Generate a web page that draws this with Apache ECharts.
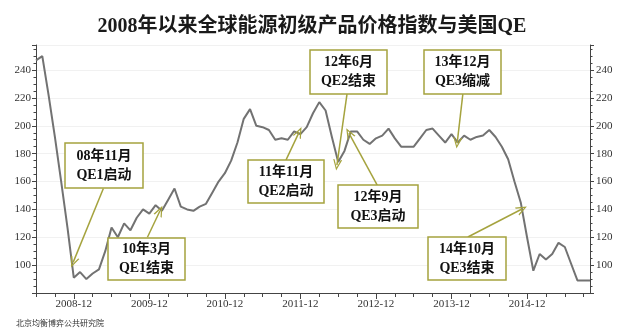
<!DOCTYPE html>
<html><head><meta charset="utf-8">
<script src="https://cdn.jsdelivr.net/npm/echarts@6/dist/echarts.min.js"></script>
<style>html,body{margin:0;padding:0;background:#fff}#c{width:624px;height:332px}</style>
</head><body><div id="c"></div>
<script>
const titleText = '2008年以来全球能源初级产品价格指数与美国QE';
const sourceText = '北京均衡博弈公共研究院';
const firstYear = 2008, firstMonth = 6, monthCount = 89;
const months = [];
for (let i = 0; i < monthCount; i++) {
  const m = firstMonth - 1 + i;
  months.push((firstYear + Math.floor(m / 12)) + '-' + String(m % 12 + 1).padStart(2, '0'));
}
// monthly energy price index, 2008-06 .. 2015-10
const priceIndex = [
  247, 250, 222, 192, 160, 127, 91, 95, 90, 94, 97, 110,
  127, 120, 130, 125, 134, 140, 137, 143, 139, 147, 155, 142,
  140, 139, 142, 144, 152, 160, 166, 175, 188, 205, 212, 200,
  199, 197, 190, 191, 190, 196, 194, 199, 209, 217, 211, 192,
  174, 182, 196, 196, 190, 187, 191, 193, 198, 191, 185, 185,
  185, 191, 197, 198, 193, 188, 194, 188, 193, 190, 192, 193,
  197, 192, 185, 176, 160, 145, 120, 96, 108, 104, 108, 116,
  113, 101, 89, 89, 89
];
const yMin = 80, yMax = 258, yStep = 20;
const yLabelMin = 100, yLabelMax = 240;

// annotations: text, arrow tail and tip in data units [month index, index value]
const noteTexts = ['08年11月\nQE1启动', '10年3月\nQE1结束', '11年11月\nQE2启动', '12年6月\nQE2结束', '12年9月\nQE3启动', '13年12月\nQE3缩减', '14年10月\nQE3结束'];
const noteTails = [[10.7, 155], [17.7, 120], [39.7, 175.4], [49.4, 222.8], [54.2, 157.5], [67.8, 222.8], [68.6, 120.2]];
const noteTips  = [[5.9, 102], [19.7, 139], [41.8, 195.5], [47.8, 171.8], [49.7, 194.8], [66.9, 187.6], [77.2, 140.3]];
const noteBoxes = [[65, 143, 78, 45], [108, 238, 77, 42], [248, 160, 76, 43], [310, 50, 77, 44], [338, 185, 80, 43], [424, 50, 77, 44], [428, 237, 78, 43]];

const serif = '"Liberation Serif", "Noto Sans CJK SC", serif';
const olive = '#a5a33e';
const axisColor = '#444';
const arrowPath = 'path://M5,0 L10,12 L8.5,12 L5,3.4 L1.5,12 L0,12 Z';

const chart = echarts.init(document.getElementById('c'), null, {renderer: 'canvas'});

const graphics = [];
noteBoxes.forEach((b, i) => {
  graphics.push({type: 'rect', z: 100, shape: {x: b[0], y: b[1], width: b[2], height: b[3]},
    style: {fill: '#fff', stroke: olive, lineWidth: 1.5}});
  graphics.push({type: 'text', z: 101, x: b[0] + b[2] / 2, y: b[1] + b[3] / 2,
    style: {text: noteTexts[i], align: 'center', verticalAlign: 'middle', font: 'bold 14px ' + serif, fill: '#111', lineHeight: 19}});
});
graphics.push({type: 'text', left: 16, top: 319, style: {text: sourceText, font: '8px "Noto Sans CJK SC", sans-serif', fill: '#333'}});

const yAxisBase = (pos) => ({
  type: 'value', position: pos, min: yMin, max: yMax, interval: yStep,
  axisLine: {show: true, lineStyle: {color: axisColor, width: 1}},
  axisTick: {show: true, length: 4, lineStyle: {color: axisColor}},
  minorTick: {show: true, splitNumber: 4, length: 2.5, lineStyle: {color: axisColor}},
  axisLabel: {margin: pos === 'left' ? 5 : 6, fontFamily: serif, fontSize: 11, color: '#333',
    formatter: v => (v >= yLabelMin && v <= yLabelMax && v % yStep === 0) ? String(v) : ''},
  splitLine: {show: pos === 'left', lineStyle: {color: '#f1f1f1', width: 1}}
});

chart.setOption({
  animation: false,
  backgroundColor: '#fff',
  title: {text: titleText, left: 'center', top: 12,
    textStyle: {fontFamily: serif, fontSize: 20, fontWeight: 'bold', color: '#1a1a1a'}},
  grid: {left: 36, right: 34, top: 45, bottom: 39},
  xAxis: [
    {type: 'value', min: 0, max: monthCount - 1, show: false},
    {type: 'category', data: months, boundaryGap: false, position: 'bottom',
      axisLine: {show: true, lineStyle: {color: axisColor, width: 1}},
      axisTick: {show: true, length: 4, interval: (i) => i % 3 === 0, lineStyle: {color: axisColor}},
      axisLabel: {interval: (i) => i % 12 === 6, margin: 6, fontFamily: serif, fontSize: 11, color: '#333'},
      splitLine: {show: false}},
    {type: 'category', data: months, boundaryGap: false, position: 'bottom',
      axisLine: {show: false},
      axisTick: {show: true, length: 6, interval: (i) => i % 12 === 6, lineStyle: {color: axisColor}},
      axisLabel: {show: false}, splitLine: {show: false}}
  ],
  yAxis: [yAxisBase('left'), yAxisBase('right')],
  series: [{
    type: 'line', xAxisIndex: 0, yAxisIndex: 0,
    data: priceIndex.map((v, i) => [i, v]),
    symbol: 'none', lineStyle: {color: '#727272', width: 2}, emphasis: {disabled: true},
    markLine: {
      silent: true, symbol: ['none', arrowPath], symbolSize: [9, 11],
      lineStyle: {color: olive, width: 1.5, type: 'solid'}, label: {show: false}, emphasis: {disabled: true},
      data: noteTails.map((t, i) => [{coord: t}, {coord: noteTips[i]}])
    }
  }],
  graphic: graphics
});
</script></body></html>
